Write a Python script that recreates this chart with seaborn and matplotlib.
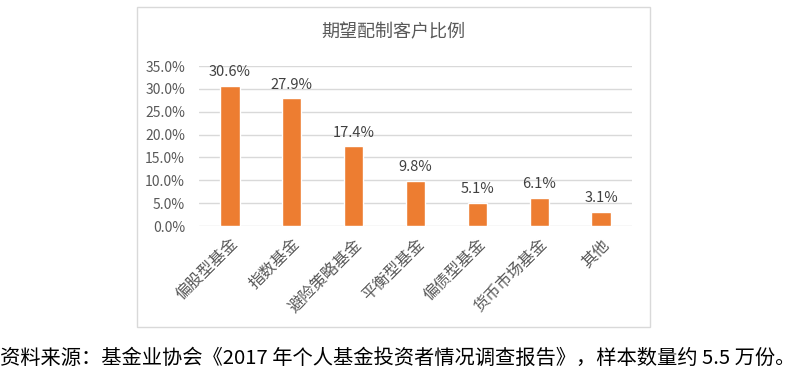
import matplotlib
matplotlib.use("Agg")
import matplotlib.pyplot as plt
import matplotlib.patches as mpatches
import seaborn as sns
import pandas as pd

categories = ["偏股型基金", "指数基金", "避险策略基金", "平衡型基金", "偏债型基金", "货币市场基金", "其他"]
values = [30.6, 27.9, 17.4, 9.8, 5.1, 6.1, 3.1]
yticks = [0, 5, 10, 15, 20, 25, 30, 35]
title = "期望配制客户比例"
footer = "资料来源：基金业协会《2017 年个人基金投资者情况调查报告》，样本数量约 5.5 万份。"

sns.set_style("white")
plt.rcParams['font.family'] = ['Noto Sans CJK SC', 'DejaVu Sans']

df = pd.DataFrame({"cat": categories, "val": values})

W, H = 805, 379
fig = plt.figure(figsize=(W / 100, H / 100), dpi=100)
fig.patch.set_facecolor("white")

# chart border
fig.patches.append(mpatches.Rectangle((137 / W, 1 - 327 / H), (650 - 137) / W, (327 - 7) / H,
                                      transform=fig.transFigure, fill=False,
                                      edgecolor="#D9D9D9", linewidth=1.0))

ax = fig.add_axes([199 / W, 1 - 226 / H, (632 - 199) / W, (226 - 66) / H])
sns.barplot(data=df, x="cat", y="val", color="#ED7D31", width=0.31, ax=ax, saturation=1)

ax.set_ylim(0, 35)
ax.set_xlim(-0.5, len(categories) - 0.5)
ax.set_yticks(yticks)
ax.set_yticklabels([f"{v:.1f}%" for v in yticks], color="#595959", fontsize=10)
ax.yaxis.grid(True, color="#D9D9D9", linewidth=1.0)
ax.set_axisbelow(True)
for s in ax.spines.values():
    s.set_visible(False)
ax.tick_params(axis="both", length=0)
ax.tick_params(axis="y", pad=10)
ax.set_xlabel("")
ax.set_ylabel("")
ax.set_xticks(range(len(categories)))
ax.set_xticklabels(categories, rotation=45, ha="right", rotation_mode="anchor",
                   color="#595959", fontsize=11.5)
ax.tick_params(axis="x", pad=7)

for i, v in enumerate(values):
    ax.annotate(f"{v}%", (i, v), xytext=(0, 5), textcoords="offset points",
                ha="center", va="bottom", color="#404040", fontsize=10.5)

fig.text(393 / W, 1 - 32 / H, title, ha="center", va="center", fontsize=13, color="#595959")
fig.text(0, 1 - 358 / H, footer, ha="left", va="center", fontsize=14.6, color="black")

fig.savefig("out.png", dpi=100)
